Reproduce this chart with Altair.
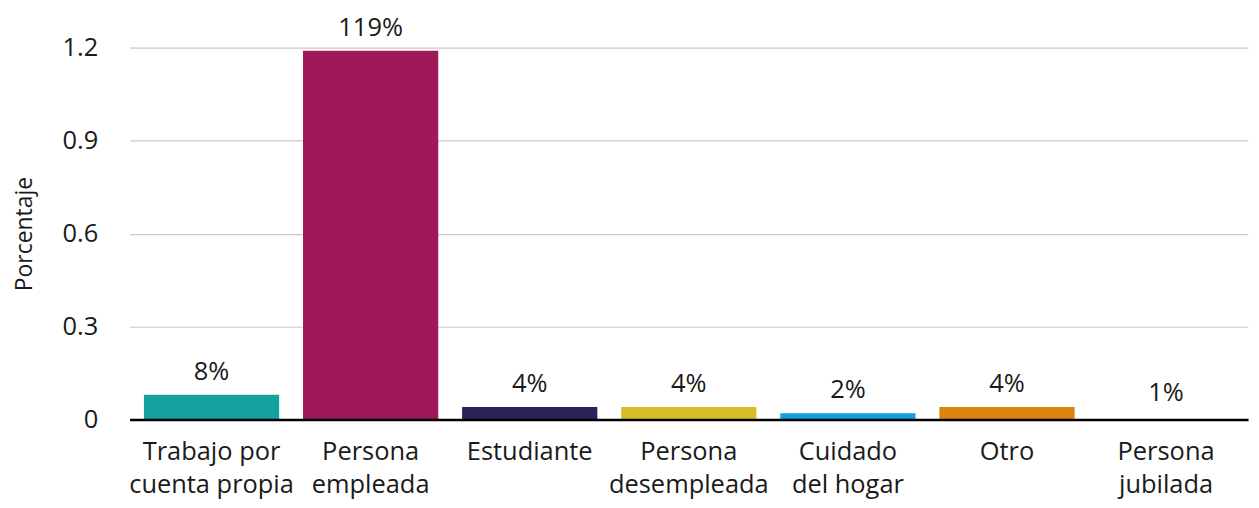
import altair as alt
import pandas as pd

categories = ["Trabajo por\ncuenta propia", "Persona\nempleada", "Estudiante",
              "Persona\ndesempleada", "Cuidado\ndel hogar", "Otro", "Persona\njubilada"]
values = [0.08, 1.19, 0.04, 0.04, 0.02, 0.04, 0.01]
labels = ["8%", "119%", "4%", "4%", "2%", "4%", "1%"]
colors = ["#13A29F", "#A1185A", "#29235C", "#D8BE26", "#0EA1DA", "#DA850E", "#FFFFFF"]
y_ticks = [0, 0.3, 0.6, 0.9, 1.2]

df = pd.DataFrame({"cat": categories, "value": values, "label": labels, "color": colors})

FONT = "Open Sans"
FS = 25.5

x = alt.X("cat:N", sort=categories, title=None,
          scale=alt.Scale(paddingInner=0.15, paddingOuter=0.09),
          axis=alt.Axis(labelAngle=0, labelExpr="split(datum.label, '\\n')",
                        labelFontSize=FS, labelColor="#1a1a1a", labelFont=FONT,
                        labelPadding=20, labelLineHeight=33, ticks=False,
                        domainColor="#000000", domainWidth=2.5, labelBaseline="top",
                        zindex=1))

bars = alt.Chart(df).mark_bar().encode(
    x=x,
    y=alt.Y("value:Q", title="Porcentaje",
            scale=alt.Scale(domain=[0, 1.2], nice=False),
            axis=alt.Axis(values=y_ticks, format="~g", labelFontSize=FS, labelFont=FONT,
                          labelColor="#1a1a1a", ticks=False, domain=False, labelPadding=32,
                          gridColor="#c8c8c8", gridWidth=1.2,
                          titleFontSize=23, titleFont=FONT, titleFontWeight="normal",
                          titleColor="#1a1a1a", titlePadding=26)),
    color=alt.Color("color:N", scale=None),
)

text = alt.Chart(df).mark_text(baseline="bottom", dy=-10, fontSize=FS, font=FONT,
                               color="#1a1a1a").encode(
    x=alt.X("cat:N", sort=categories),
    y="value:Q",
    text="label:N",
)

chart = (bars + text).properties(
    width=1122, height=373,
    autosize=alt.AutoSizeParams(type="none"),
    padding={"left": 122, "top": 39, "right": 3, "bottom": 80},
).configure_view(stroke=None)

chart.save("out.html", embed_options={"renderer": "svg", "actions": False})
